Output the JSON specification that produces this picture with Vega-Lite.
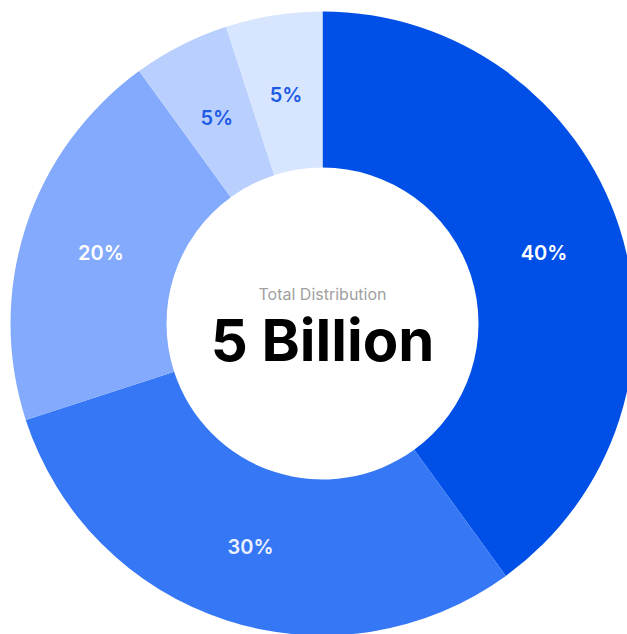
{
  "$schema": "https://vega.github.io/schema/vega-lite/v6.json",
  "width": 609,
  "height": 621,
  "autosize": {"type": "none"},
  "padding": {"left": 18, "top": 13, "right": 0, "bottom": 0},
  "background": "white",
  "config": {"view": {"stroke": null}, "font": "Inter"},
  "layer": [
    {
      "data": {"values": [
        {"segment": "Segment 1", "value": 40, "label": "40%", "idx": 1},
        {"segment": "Segment 2", "value": 30, "label": "30%", "idx": 2},
        {"segment": "Segment 3", "value": 20, "label": "20%", "idx": 3},
        {"segment": "Segment 4", "value": 5, "label": "5%", "idx": 4},
        {"segment": "Segment 5", "value": 5, "label": "5%", "idx": 5}
      ]},
      "layer": [
        {
          "mark": {"type": "arc", "outerRadius": 312, "innerRadius": 156},
          "encoding": {
            "theta": {"field": "value", "type": "quantitative", "stack": true},
            "order": {"field": "idx", "type": "quantitative"},
            "color": {
              "field": "segment", "type": "nominal", "legend": null,
              "scale": {
                "domain": ["Segment 1", "Segment 2", "Segment 3", "Segment 4", "Segment 5"],
                "range": ["#0050E8", "#3677F6", "#83AAFC", "#B9CFFD", "#D7E5FE"]
              }
            }
          }
        },
        {
          "mark": {"type": "text", "radius": 233, "fontSize": 20, "fontWeight": 600, "align": "center", "baseline": "middle", "dy": 3},
          "encoding": {
            "theta": {"field": "value", "type": "quantitative", "stack": true},
            "order": {"field": "idx", "type": "quantitative"},
            "text": {"field": "label", "type": "nominal"},
            "color": {"condition": {"test": "datum.value < 10", "value": "#1D5BE6"}, "value": "#FFFFFF"},
            "opacity": {"condition": {"test": "datum.value == 30", "value": 0.9}, "value": 1}
          }
        }
      ]
    },
    {
      "data": {"values": [{"title": "Total Distribution", "total": "5 Billion"}]},
      "layer": [
        {
          "mark": {"type": "text", "fontSize": 16, "color": "#A0A0A0", "dy": -29, "baseline": "middle", "align": "center"},
          "encoding": {"text": {"field": "title", "type": "nominal"}}
        },
        {
          "mark": {"type": "text", "fontSize": 58, "fontWeight": "bold", "color": "#000000", "dy": 37, "baseline": "alphabetic", "align": "center"},
          "encoding": {"text": {"field": "total", "type": "nominal"}}
        }
      ]
    }
  ]
}
